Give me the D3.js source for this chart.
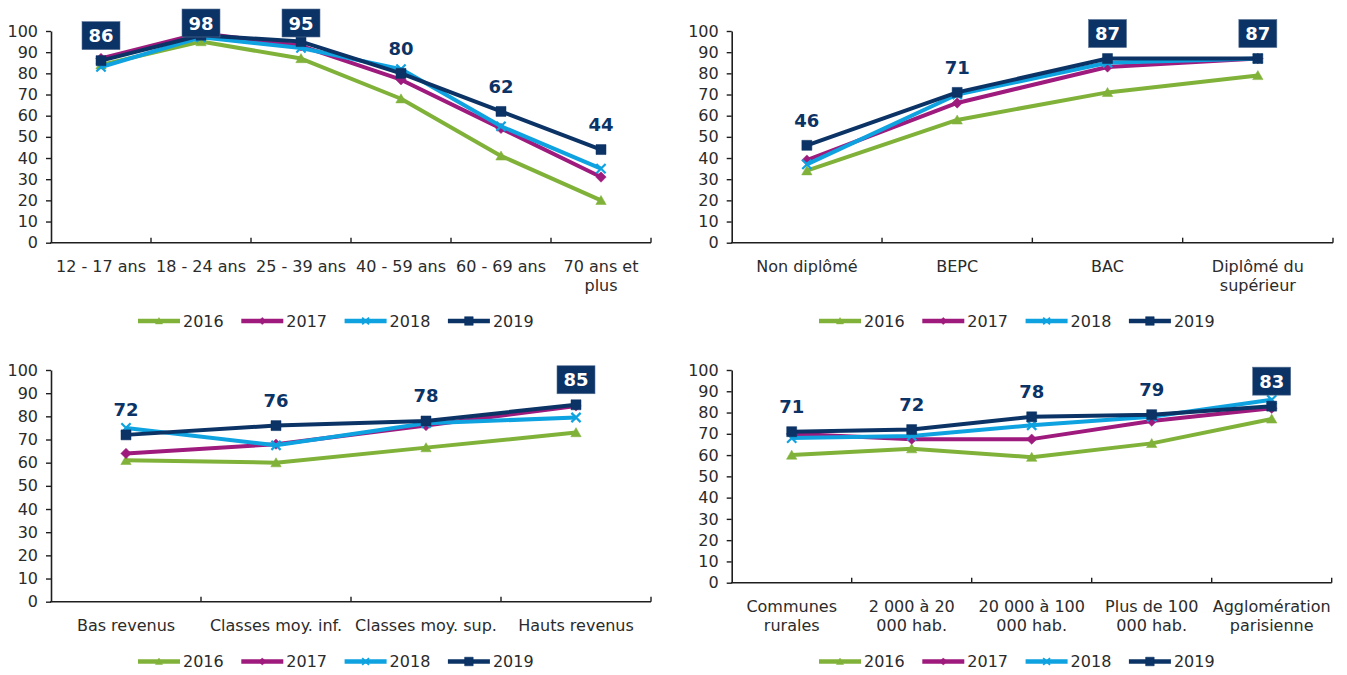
<!DOCTYPE html>
<html><head><meta charset="utf-8">
<script src="https://cdn.jsdelivr.net/npm/d3@7"></script>
<style>
body{margin:0;background:#fff}
svg{display:block}
text{font-family:"DejaVu Sans",Verdana,sans-serif}
</style></head>
<body><svg id="c" width="1347" height="675"></svg>
<script>
// ---- data ----
const years = ["2016", "2017", "2018", "2019"];

const ageCats = ["12 - 17 ans", "18 - 24 ans", "25 - 39 ans", "40 - 59 ans", "60 - 69 ans", "70 ans et plus"];
const age2016 = [84, 95, 87, 68, 41, 20];
const age2017 = [87, 99, 93, 77, 54, 31];
const age2018 = [83, 97, 92, 82, 55, 35];
const age2019 = [86, 98, 95, 80, 62, 44];

const dipCats = ["Non diplômé", "BEPC", "BAC", "Diplômé du supérieur"];
const dip2016 = [34, 58, 71, 79];
const dip2017 = [39, 66, 83, 87];
const dip2018 = [37, 70, 85, 87];
const dip2019 = [46, 71, 87, 87];

const revCats = ["Bas revenus", "Classes moy. inf.", "Classes moy. sup.", "Hauts revenus"];
const rev2016 = [61, 60, 66.5, 73];
const rev2017 = [64, 68, 76, 84.5];
const rev2018 = [75, 67.5, 77, 79.5];
const rev2019 = [72, 76, 78, 85];

const aggCats = ["Communes rurales", "2 000 à 20 000 hab.", "20 000 à 100 000 hab.", "Plus de 100 000 hab.", "Agglomération parisienne"];
const agg2016 = [60, 63, 59, 65.5, 77];
const agg2017 = [70, 67.5, 67.5, 76, 82];
const agg2018 = [68, 69, 74, 78, 86];
const agg2019 = [71, 72, 78, 79, 83];

const yTicks = [0, 10, 20, 30, 40, 50, 60, 70, 80, 90, 100];

// ---- styles ----
const colors = ["#80b23a", "#9e1a7d", "#0ea2e0", "#0c3365"];
const markers = ["triangle", "diamond", "cross", "square"];
const labelColor = "#0c3365";
const textColor = "#2b2b2b";

const panels = [
  {cats: ageCats, series: [age2016, age2017, age2018, age2019], boxed: [0, 1, 2],
   x0: 51, x1: 651, yTop: 31, yBot: 242.7, wrap: 96, legendX: 138, legendY: 321},
  {cats: dipCats, series: [dip2016, dip2017, dip2018, dip2019], boxed: [2, 3],
   x0: 731.7, x1: 1333, yTop: 31, yBot: 242.7, wrap: 140, legendX: 819, legendY: 321},
  {cats: revCats, series: [rev2016, rev2017, rev2018, rev2019], boxed: [3],
   x0: 51, x1: 651, yTop: 370, yBot: 601.7, wrap: 170, legendX: 138, legendY: 661.5},
  {cats: aggCats, series: [agg2016, agg2017, agg2018, agg2019], boxed: [4],
   x0: 731.7, x1: 1331.7, yTop: 370, yBot: 582.7, wrap: 110, legendX: 819, legendY: 661.5}
];

function markerPath(type, s) {
  switch (type) {
    case "triangle": return `M0,${-s * 0.95}L${s},${s * 0.8}L${-s},${s * 0.8}Z`;
    case "diamond": return `M0,${-s}L${s},0L0,${s}L${-s},0Z`;
    case "square": return `M${-s},${-s}h${2 * s}v${2 * s}h${-2 * s}Z`;
    case "cross": return `M${-s},${-s}L${s},${s}M${s},${-s}L${-s},${s}`;
  }
}
const mainSize = {triangle: 5.2, diamond: 5.2, cross: 4.6, square: 5};
const legSize = {triangle: 3.6, diamond: 3.6, cross: 3.4, square: 4.3};

const svg = d3.select("#c");

function wrapText(textSel, width, lineH) {
  textSel.each(function() {
    const t = d3.select(this);
    const words = t.text().split(/\s+/);
    t.text(null);
    let line = [];
    let tspan = t.append("tspan").attr("x", 0).attr("dy", 0);
    let n = 0;
    words.forEach(w => {
      line.push(w);
      tspan.text(line.join(" "));
      if (tspan.node().getComputedTextLength() > width && line.length > 1) {
        line.pop();
        tspan.text(line.join(" "));
        line = [w];
        n++;
        tspan = t.append("tspan").attr("x", 0).attr("dy", lineH).text(w);
      }
    });
  });
}

panels.forEach(p => {
  const g = svg.append("g");
  const x = d3.scaleBand().domain(p.cats).range([p.x0, p.x1]).padding(0);
  const y = d3.scaleLinear().domain([0, 100]).range([p.yBot, p.yTop]);
  const cx = c => x(c) + x.bandwidth() / 2;

  // y axis
  const ya = g.append("g").attr("transform", `translate(${p.x0},0)`)
    .call(d3.axisLeft(y).tickValues(yTicks).tickSize(5).tickSizeOuter(0).tickPadding(8));
  ya.select(".domain").attr("stroke", "#1e1e1e").attr("stroke-width", 1.6);
  ya.selectAll(".tick line").attr("stroke", "#1e1e1e").attr("stroke-width", 1.4);
  ya.selectAll(".tick text").attr("fill", textColor).style("font-size", "16px")
    .style("font-family", '"DejaVu Sans",Verdana,sans-serif');

  // x axis (labels through axis, boundary ticks drawn separately)
  const xa = g.append("g").attr("transform", `translate(0,${p.yBot})`)
    .call(d3.axisBottom(x).tickSize(0).tickSizeOuter(0).tickPadding(0));
  xa.select(".domain").remove();
  xa.selectAll(".tick text").attr("fill", textColor).style("font-size", "16px")
    .style("font-family", '"DejaVu Sans",Verdana,sans-serif')
    .attr("dy", null).attr("y", 29);
  wrapText(xa.selectAll(".tick text"), p.wrap, 19);
  xa.selectAll(".tick text tspan").attr("x", 0);

  g.append("line").attr("x1", p.x0 - 0.8).attr("x2", p.x1).attr("y1", p.yBot).attr("y2", p.yBot)
    .attr("stroke", "#1e1e1e").attr("stroke-width", 1.6);
  const bounds = p.cats.map(c => x(c) + x.bandwidth()).concat([]);
  g.selectAll("line.bt").data(bounds).join("line").attr("class", "bt")
    .attr("x1", d => d).attr("x2", d => d).attr("y1", p.yBot).attr("y2", p.yBot - 5)
    .attr("stroke", "#1e1e1e").attr("stroke-width", 1.4);

  // series
  const line = d3.line().x((d, i) => cx(p.cats[i])).y(d => y(d));
  p.series.forEach((vals, si) => {
    const sg = g.append("g");
    sg.append("path").datum(vals).attr("d", line).attr("fill", "none")
      .attr("stroke", colors[si]).attr("stroke-width", 4).attr("stroke-linejoin", "round");
    const m = markers[si];
    sg.selectAll("path.m").data(vals).join("path").attr("class", "m")
      .attr("transform", (d, i) => `translate(${cx(p.cats[i])},${y(d)})`)
      .attr("d", markerPath(m, mainSize[m]))
      .attr("fill", m === "cross" ? "none" : colors[si])
      .attr("stroke", colors[si]).attr("stroke-width", m === "cross" ? 2.2 : 0.5);
  });

  // data labels (2019)
  const last = p.series[3];
  last.forEach((v, i) => {
    const px = cx(p.cats[i]);
    let cy = y(v) - 25;
    const boxed = p.boxed.includes(i);
    if (boxed) {
      let top = cy - 14;
      top = Math.max(top, p.yTop - 22);
      cy = top + 14;
      g.append("rect").attr("x", px - 19).attr("y", top).attr("width", 38).attr("height", 28)
        .attr("fill", labelColor).attr("stroke", "#5a7396").attr("stroke-width", 0.6);
    }
    g.append("text").attr("x", px).attr("y", cy + 6.5).attr("text-anchor", "middle")
      .attr("fill", boxed ? "#fff" : labelColor).style("font-size", "18px").style("font-weight", "bold")
      .text(d3.format("d")(v));
  });

  // legend
  const lg = g.append("g").attr("transform", `translate(${p.legendX},${p.legendY})`);
  years.forEach((yr, si) => {
    const it = lg.append("g").attr("transform", `translate(${si * 103.3},0)`);
    it.append("line").attr("x1", 0).attr("x2", 42).attr("y1", 0).attr("y2", 0)
      .attr("stroke", colors[si]).attr("stroke-width", 4.5);
    const m = markers[si];
    it.append("path").attr("transform", "translate(21,0)").attr("d", markerPath(m, legSize[m]))
      .attr("fill", m === "cross" ? "none" : colors[si]).attr("stroke", colors[si])
      .attr("stroke-width", m === "cross" ? 1.8 : 0.5);
    it.append("text").attr("x", 45).attr("y", 5.8).attr("fill", textColor)
      .style("font-size", "16px").text(yr);
  });
});
</script>
</body></html>
